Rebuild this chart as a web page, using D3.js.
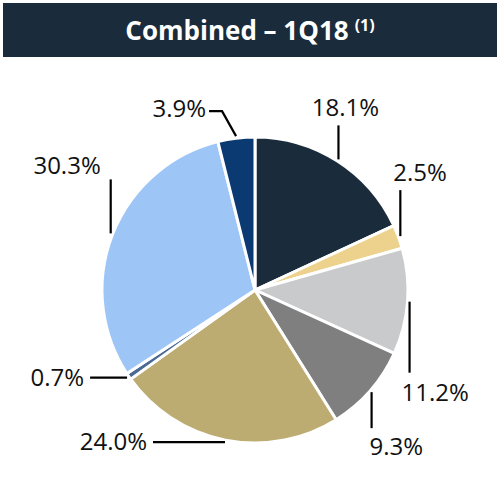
<!DOCTYPE html>
<html>
<head>
<meta charset="utf-8">
<script src="https://cdn.jsdelivr.net/npm/d3@7.9.0/dist/d3.min.js"></script>
<style>
  html, body { margin: 0; padding: 0; background: #fff; }
  svg { display: block; }
</style>
</head>
<body>
<svg width="500" height="500"></svg>
<script>
// slice values, clockwise from 12 o'clock
const shares = [18.1, 2.5, 11.2, 9.3, 24.0, 0.7, 30.3, 3.9];
const sliceColors = ["#1a2b3b", "#ecd28c", "#c9cacc", "#7f7f7f", "#bdac72", "#4a6a96", "#9dc6f7", "#0b3a72"];
const titleText = "Combined \u2013 1Q18";
const titleNote = "(1)";

// leader line shape for each label: path offsets from the slice edge, then text offset
const labelLayout = [
  { path: [[0, -34]], dx: 7, dy: -9, anchor: "middle" },
  { path: [[0, -46]], dx: -7, dy: -9, anchor: "start" },
  { path: [[0, 71]], dx: -8, dy: 28, anchor: "start" },
  { path: [[0, 36]], dx: -2, dy: 27, anchor: "start" },
  { path: [[-72, 0]], dx: -6, dy: 8, anchor: "end" },
  { path: [[-37, 0]], dx: -6, dy: 8, anchor: "end" },
  { path: [[0, -54]], dx: -10, dy: -5, anchor: "end" },
  { path: [[-14, -25], [-13, 0]], dx: -3, dy: 6, anchor: "end" }
];

const svg = d3.select("svg");
const cx = 255, cy = 290, radius = 153;

// title bar
svg.append("rect")
  .attr("x", 3).attr("y", 3)
  .attr("width", 494).attr("height", 54)
  .attr("fill", "#1a2b3b");

const title = svg.append("text")
  .attr("x", 250).attr("y", 40)
  .attr("text-anchor", "middle")
  .attr("fill", "#fff")
  .style("font-family", "'Open Sans', sans-serif")
  .style("font-weight", "bold")
  .style("font-size", "26px")
  .text(titleText);
title.append("tspan")
  .attr("dx", 6).attr("dy", -9)
  .style("font-size", "16px")
  .text(titleNote);

const pie = d3.pie().sort(null).value(d => d);
const arcs = pie(shares);
const arc = d3.arc().innerRadius(0).outerRadius(radius);

const g = svg.append("g").attr("transform", `translate(${cx},${cy})`);

g.selectAll("path.slice")
  .data(arcs)
  .join("path")
  .attr("class", "slice")
  .attr("d", arc)
  .attr("fill", (d, i) => sliceColors[i])
  .attr("stroke", "#fff")
  .attr("stroke-width", 3)
  .attr("stroke-linejoin", "round");

// leader lines + labels
arcs.forEach((d, i) => {
  const lay = labelLayout[i];
  const mid = (d.startAngle + d.endAngle) / 2;
  const r0 = radius + 2;
  let x = Math.sin(mid) * r0, y = -Math.cos(mid) * r0;
  const pts = [[x, y]];
  lay.path.forEach(([dx, dy]) => { x += dx; y += dy; pts.push([x, y]); });

  g.append("path")
    .attr("d", d3.line()(pts))
    .attr("fill", "none")
    .attr("stroke", "#000")
    .attr("stroke-width", 2.2);

  g.append("text")
    .attr("x", x + lay.dx)
    .attr("y", y + lay.dy)
    .attr("text-anchor", lay.anchor)
    .style("font-family", "'Open Sans', sans-serif")
    .style("font-size", "24px")
    .attr("fill", "#111")
    .text(d3.format(".1f")(d.data) + "%");
});
</script>
</body>
</html>
